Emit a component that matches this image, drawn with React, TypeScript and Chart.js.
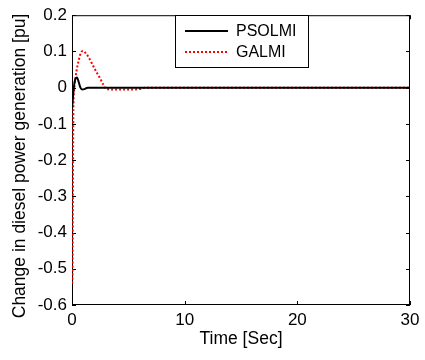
import React, { useEffect, useRef } from "react";
import { Chart, registerables } from "chart.js";

Chart.register(...registerables);

const psoTime = [0, 0.1, 0.2, 0.3, 0.45, 0.6, 0.75, 0.9, 1.1, 1.4, 30];
const psoValues = [-0.06, -0.02, 0.01, 0.024, 0.028, 0.015, 0.0, -0.005, -0.004, 0, 0];

const gaTime = [0, 0.04, 0.08, 0.12, 0.17, 0.23, 0.3, 0.4, 0.6, 0.8, 1.0, 1.25, 1.55, 1.85, 2.15, 2.45, 2.75, 3.05, 4, 5, 6, 6.5, 30];
const gaValues = [-0.54, -0.53, -0.3, -0.06, -0.015, 0.005, 0.025, 0.046, 0.076, 0.097, 0.101, 0.094, 0.08, 0.062, 0.044, 0.028, 0.01, -0.004, -0.005, -0.005, -0.004, 0, 0];

const seriesNames = ["PSOLMI", "GALMI"];
const xTitle = "Time [Sec]";
const yTitle = "Change in diesel power generation [pu]";
const xMin = 0, xMax = 30, xStep = 10;
const yMin = -0.6, yMax = 0.2, yStep = 0.1;

const FONT = "'Liberation Sans', Arial, sans-serif";

const framePlugin = {
  id: "frame",
  beforeDatasetsDraw(chart: any) {
    const { ctx, chartArea: a, scales } = chart;
    ctx.save();
    ctx.strokeStyle = "#000";
    ctx.lineWidth = 1;
    ctx.strokeRect(a.left + 0.5, a.top + 0.5, a.right - a.left - 1, a.bottom - a.top - 1);
    const tl = 4;
    ctx.beginPath();
    scales.x.ticks.forEach((t: any) => {
      const px = Math.round(scales.x.getPixelForValue(t.value)) + 0.5;
      ctx.moveTo(px, a.bottom);
      ctx.lineTo(px, a.bottom - tl);
      ctx.moveTo(px, a.top);
      ctx.lineTo(px, a.top + tl);
    });
    scales.y.ticks.forEach((t: any) => {
      const py = Math.round(scales.y.getPixelForValue(t.value)) + 0.5;
      ctx.moveTo(a.left, py);
      ctx.lineTo(a.left + tl, py);
      ctx.moveTo(a.right, py);
      ctx.lineTo(a.right - tl, py);
    });
    ctx.stroke();

    // y-axis title
    ctx.save();
    ctx.translate(20, 166);
    ctx.rotate(-Math.PI / 2);
    ctx.fillStyle = "#000";
    ctx.font = `17.5px ${FONT}`;
    ctx.textAlign = "center";
    ctx.textBaseline = "middle";
    ctx.fillText(yTitle, 0, 0);
    ctx.restore();
    ctx.restore();
  },
  afterDraw(chart: any) {
    const { ctx } = chart;
    ctx.save();
    const bx = 175.5, by = 15.5, bw = 133, bh = 52;
    ctx.fillStyle = "#fff";
    ctx.strokeStyle = "#000";
    ctx.lineWidth = 1;
    ctx.fillRect(bx, by, bw, bh);
    ctx.strokeRect(bx, by, bw, bh);
    const rows = [
      { y: 31, color: "#000", dash: [] as number[] },
      { y: 52, color: "#ff0000", dash: [2, 2] },
    ];
    rows.forEach((r, i) => {
      ctx.beginPath();
      ctx.setLineDash(r.dash);
      ctx.strokeStyle = r.color;
      ctx.lineWidth = 2;
      ctx.moveTo(185, r.y);
      ctx.lineTo(228, r.y);
      ctx.stroke();
      ctx.setLineDash([]);
      ctx.fillStyle = "#000";
      ctx.font = `16px ${FONT}`;
      ctx.textBaseline = "middle";
      ctx.textAlign = "left";
      ctx.fillText(seriesNames[i], 236, r.y + 1);
    });
    ctx.restore();
  },
};

export default function App() {
  const ref = useRef<HTMLCanvasElement | null>(null);
  useEffect(() => {
    if (!ref.current) return;
    const chart = new Chart(ref.current, {
      type: "line",
      data: {
        datasets: [
          {
            label: seriesNames[0],
            data: psoTime.map((t, i) => ({ x: t, y: psoValues[i] })),
            borderColor: "#000",
            borderWidth: 2,
            pointRadius: 0,
            cubicInterpolationMode: "monotone",
          },
          {
            label: seriesNames[1],
            data: gaTime.map((t, i) => ({ x: t, y: gaValues[i] })),
            borderColor: "#ff0000",
            borderWidth: 2,
            borderDash: [2, 2],
            pointRadius: 0,
            cubicInterpolationMode: "monotone",
          },
        ],
      },
      options: {
        responsive: false,
        animation: false,
        layout: { padding: { top: 15, right: 15, left: 0, bottom: 0 } },
        plugins: { legend: { display: false }, tooltip: { enabled: false } },
        scales: {
          x: {
            type: "linear",
            min: xMin,
            max: xMax,
            ticks: { stepSize: xStep, color: "#000", font: { size: 17, family: FONT }, padding: 5, maxRotation: 0 },
            grid: { display: false, drawTicks: false },
            border: { display: false },
            title: { display: true, text: xTitle, color: "#000", font: { size: 17.5, family: FONT }, padding: { top: 0, bottom: 10 } },
            afterFit: (s: any) => { s.height = 55; },
          },
          y: {
            type: "linear",
            min: yMin,
            max: yMax,
            ticks: {
              stepSize: yStep,
              color: "#000",
              font: { size: 17, family: FONT },
              padding: 5,
              callback: (v: any) => String(parseFloat(Number(v).toFixed(1))),
            },
            grid: { display: false, drawTicks: false },
            border: { display: false },
            title: { display: false },
            afterFit: (s: any) => { s.width = 72; },
          },
        },
      },
      plugins: [framePlugin],
    } as any);
    return () => chart.destroy();
  }, []);
  return (
    <div style={{ position: "fixed", left: 0, top: 0, width: 425, height: 360, background: "#fff" }}>
      <canvas ref={ref} width={425} height={360} />
    </div>
  );
}
